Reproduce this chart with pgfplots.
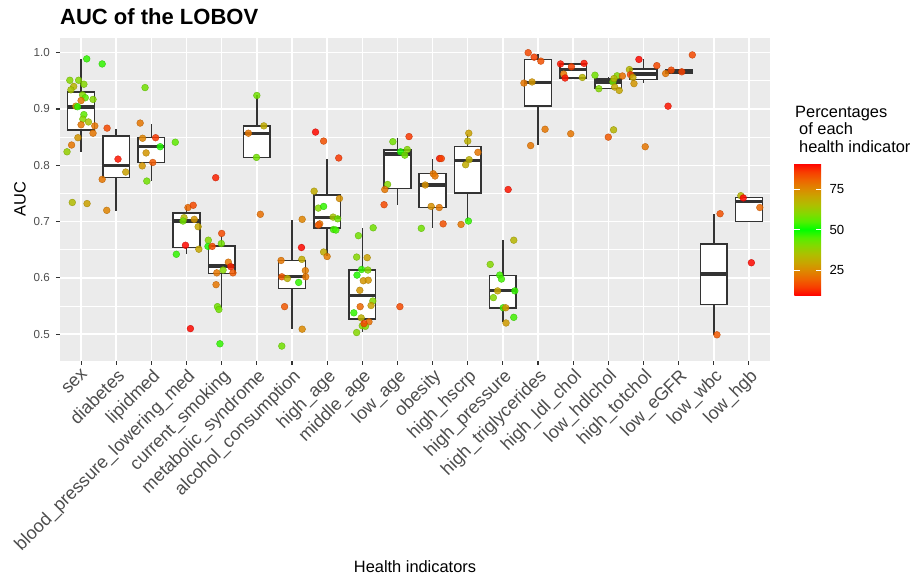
\documentclass[border=0pt]{standalone}
\usepackage{fontspec}
\setmainfont{Liberation Sans}
\usepackage{pgfplots}
\pgfplotsset{compat=1.18}
\usepackage{pgfplotstable}
\usepgfplotslibrary{statistics}
\definecolor{grey20}{HTML}{333333}
\definecolor{grey30}{HTML}{4D4D4D}
\definecolor{panelbg}{HTML}{EBEBEB}
\pgfplotsset{colormap={rgr}{rgb255=(255,0,0) rgb255=(248,60,0) rgb255=(238,100,0) rgb255=(222,135,0) rgb255=(200,165,0) rgb255=(175,190,0) rgb255=(135,215,0) rgb255=(85,238,0) rgb255=(0,255,0) rgb255=(85,238,0) rgb255=(135,215,0) rgb255=(175,190,0) rgb255=(200,165,0) rgb255=(222,135,0) rgb255=(238,100,0) rgb255=(248,60,0) rgb255=(255,0,0)}}

\pgfplotstableread{
x y c
1.16 0.989 47
1.60 0.980 47
0.68 0.951 40
0.93 0.951 40
1.08 0.944 40
0.79 0.940 33
0.71 0.934 36
1.04 0.925 40
1.12 0.920 44
1.34 0.917 40
1.00 0.915 22
0.85 0.905 27
0.90 0.904 47
1.08 0.890 44
1.05 0.882 40
1.21 0.877 36
1.00 0.872 22
1.39 0.870 22
1.34 0.857 22
0.91 0.849 27
0.73 0.836 22
0.60 0.824 38
0.75 0.734 34
1.17 0.732 29
1.74 0.866 16
2.05 0.811 11
2.27 0.788 29
1.60 0.775 22
1.73 0.720 24
2.82 0.938 42
2.68 0.875 22
2.75 0.848 24
3.12 0.849 14
3.25 0.833 48
3.68 0.841 44
2.85 0.822 27
3.04 0.805 18
2.74 0.799 27
2.87 0.772 42
4.04 0.725 20
4.19 0.729 16
3.93 0.707 33
3.90 0.701 42
4.22 0.704 27
4.33 0.691 30
3.97 0.658 10
4.35 0.651 30
3.71 0.642 47
4.11 0.510 10
4.83 0.778 12
5.00 0.679 16
4.62 0.667 40
4.99 0.661 42
4.61 0.656 48
4.73 0.656 16
5.19 0.628 22
5.26 0.620 12
5.32 0.609 18
4.86 0.609 22
5.04 0.614 40
4.84 0.588 22
4.88 0.549 42
4.92 0.544 42
4.95 0.483 47
6.00 0.924 42
6.20 0.870 31
5.76 0.857 22
5.99 0.814 42
6.10 0.713 21
7.29 0.704 24
7.27 0.654 10
7.28 0.633 31
6.69 0.631 22
7.38 0.613 23
6.71 0.602 18
6.87 0.599 32
7.39 0.602 22
7.19 0.592 47
6.79 0.549 18
7.29 0.509 25
6.71 0.479 42
7.67 0.859 10
7.90 0.843 17
8.33 0.813 14
7.63 0.754 31
8.35 0.741 26
7.75 0.724 40
7.90 0.727 47
8.17 0.708 36
8.30 0.705 42
7.79 0.696 22
7.75 0.694 18
8.18 0.686 46
8.25 0.685 46
7.90 0.646 31
8.00 0.638 23
9.31 0.689 42
8.89 0.675 42
8.84 0.637 40
9.14 0.636 29
8.98 0.615 47
9.16 0.614 40
8.85 0.605 48
9.03 0.595 27
9.17 0.596 27
8.93 0.578 27
9.30 0.559 40
9.25 0.551 29
8.94 0.549 20
8.76 0.538 47
8.97 0.529 32
9.19 0.522 21
9.00 0.515 40
9.09 0.514 40
9.05 0.519 16
8.84 0.503 40
10.33 0.851 14
9.87 0.842 42
10.09 0.824 48
10.28 0.828 40
10.21 0.818 42
9.72 0.766 40
9.64 0.757 22
9.62 0.730 16
10.07 0.549 16
11.20 0.812 11
11.25 0.812 15
11.02 0.785 22
11.07 0.781 22
10.79 0.765 26
10.96 0.727 26
11.19 0.725 22
10.68 0.688 42
11.30 0.696 17
12.03 0.857 29
12.00 0.843 32
12.29 0.823 22
12.04 0.810 32
11.94 0.801 31
11.81 0.695 22
12.02 0.701 47
13.15 0.757 11
13.31 0.667 33
12.64 0.624 40
12.91 0.605 46
12.96 0.598 46
12.85 0.577 30
13.34 0.577 47
12.73 0.565 40
13.01 0.547 46
13.08 0.547 27
13.31 0.530 46
13.09 0.520 28
13.72 1.000 16
13.89 0.992 15
14.08 0.985 17
13.60 0.946 22
13.83 0.948 27
14.20 0.864 22
13.79 0.835 22
14.64 0.980 11
15.31 0.981 11
14.95 0.975 15
14.73 0.962 22
14.77 0.955 11
15.26 0.956 33
14.93 0.856 22
15.62 0.960 42
15.73 0.936 40
16.13 0.948 42
16.25 0.959 40
16.16 0.954 33
16.18 0.939 30
16.31 0.933 30
16.00 0.850 18
16.15 0.863 33
16.40 0.9586 21
16.87 0.988 10
17.38 0.977 16
16.60 0.970 33
16.63 0.961 16
16.70 0.956 30
16.73 0.945 27
17.05 0.833 22
17.63 0.963 22
17.79 0.969 16
18.09 0.966 15
18.39 0.996 16
17.70 0.905 11
19.18 0.714 17
19.09 0.499 18
19.77 0.746 33
19.84 0.742 10
20.31 0.725 20
20.07 0.627 10
}\pts

\newcommand{\bx}[6]{\addplot[boxst, boxplot prepared={draw position=#1, lower whisker=#2, lower quartile=#3, median=#4, upper quartile=#5, upper whisker=#6}] coordinates {};}

\begin{document}
\begin{tikzpicture}
\path[use as bounding box] (0,0) rectangle (913pt,578pt);
\begin{axis}[
  at={(60pt,217.3pt)}, anchor=south west, scale only axis,
  width=710pt, height=323pt,
  xmin=0.4, xmax=20.6, ymin=0.453, ymax=1.0266,
  axis background/.style={fill=panelbg},
  axis line style={draw=none},
  /pgf/number format/assume math mode=true,
  xtick={1,2,3,4,5,6,7,8,9,10,11,12,13,14,15,16,17,18,19,20},
  xticklabels={sex,diabetes,lipidmed,blood\_pressure\_lowering\_med,current\_smoking,metabolic\_syndrome,alcohol\_consumption,high\_age,middle\_age,low\_age,obesity,high\_hscrp,high\_pressure,high\_triglycerides,high\_ldl\_chol,low\_hdlchol,high\_totchol,low\_eGFR,low\_wbc,low\_hgb},
  ytick={0.5,0.6,0.7,0.8,0.9,1.0},
  yticklabels={0.5,0.6,0.7,0.8,0.9,1.0},
  minor ytick={0.55,0.65,0.75,0.85,0.95},
  xmajorgrids, ymajorgrids, yminorgrids,
  major grid style={white, line width=1.5pt},
  minor grid style={white, line width=0.7pt},
  tick align=outside, major tick length=4pt, minor tick length=0pt,
  major tick style={grey20, line width=1.1pt},
  xtick pos=left, ytick pos=left,
  yticklabel style={font=\fontsize{11.6}{13}\selectfont, text=grey30, inner sep=2pt, xshift=-4pt},
  xticklabel style={font=\fontsize{18}{20}\selectfont, text=grey30, rotate=45, anchor=north east, inner sep=2pt},
  boxplot/draw direction=y,
  boxplot/box extend=0.76,
  boxplot/whisker extend=0,
  boxst/.style={draw=grey20, fill=white, line width=1.5pt, solid, boxplot/every median/.style={line width=3.2pt}},
  point meta min=9.2, point meta max=90.8,
  colorbar,
  colorbar/width=26.7pt,
  colorbar style={
    at={(parent axis.south east)}, anchor=south west, xshift=15.8pt, yshift=65pt,
    height=132.4pt,
    ytick={25,50,75},
    yticklabels={25,50,75},
    yticklabel pos=right,
    ytick pos=both,
    tick align=inside, major tick length=5.3pt,
    major tick style={draw=white, line width=0.8pt},
    axis line style={draw=none},
    yticklabel style={font=\fontsize{13.2}{15}\selectfont, text=black, xshift=5pt},
  },
]
\bx{1}{0.824}{0.863}{0.9035}{0.930}{0.988}
\bx{2}{0.719}{0.778}{0.800}{0.852}{0.865}
\bx{3}{0.772}{0.805}{0.833}{0.849}{0.874}
\bx{4}{0.643}{0.654}{0.701}{0.715}{0.728}
\bx{5}{0.547}{0.608}{0.621}{0.657}{0.674}
\bx{6}{0.814}{0.814}{0.857}{0.870}{0.924}
\bx{7}{0.510}{0.581}{0.602}{0.631}{0.702}
\bx{8}{0.639}{0.689}{0.708}{0.747}{0.812}
\bx{9}{0.504}{0.527}{0.569}{0.614}{0.689}
\bx{10}{0.730}{0.759}{0.820}{0.827}{0.849}
\bx{11}{0.689}{0.725}{0.765}{0.785}{0.811}
\bx{12}{0.701}{0.751}{0.809}{0.833}{0.856}
\bx{13}{0.521}{0.547}{0.577}{0.604}{0.667}
\bx{14}{0.836}{0.905}{0.947}{0.988}{0.998}
\bx{15}{0.955}{0.955}{0.970}{0.980}{0.981}
\bx{16}{0.936}{0.936}{0.948}{0.953}{0.957}
\bx{17}{0.946}{0.952}{0.962}{0.971}{0.988}
\bx{18}{0.963}{0.963}{0.966}{0.969}{0.969}
\bx{19}{0.499}{0.553}{0.607}{0.660}{0.713}
\bx{20}{0.700}{0.700}{0.735}{0.743}{0.743}
\addplot[scatter, only marks, scatter src=explicit, mark=*, mark size=3.4pt, mark options={opacity=0.85}] table[x=x,y=y,meta=c]{\pts};
\end{axis}
\node[anchor=base west, inner sep=0pt] at (60pt,553pt) {\fontsize{22}{26}\selectfont\bfseries AUC of the LOBOV};
\node[rotate=90, inner sep=0pt] at (20pt,379pt) {\fontsize{16.4}{19}\selectfont AUC};
\node[anchor=base, inner sep=0pt] at (415pt,5pt) {\fontsize{16.4}{19}\selectfont Health indicators};
\node[anchor=base west, inner sep=0pt] at (795pt,460.7pt) {\fontsize{16.4}{19}\selectfont Percentages};
\node[anchor=base west, inner sep=0pt] at (799pt,443pt) {\fontsize{16.4}{19}\selectfont of each};
\node[anchor=base west, inner sep=0pt] at (799pt,425.3pt) {\fontsize{16.4}{19}\selectfont health indicator};
\end{tikzpicture}
\end{document}
